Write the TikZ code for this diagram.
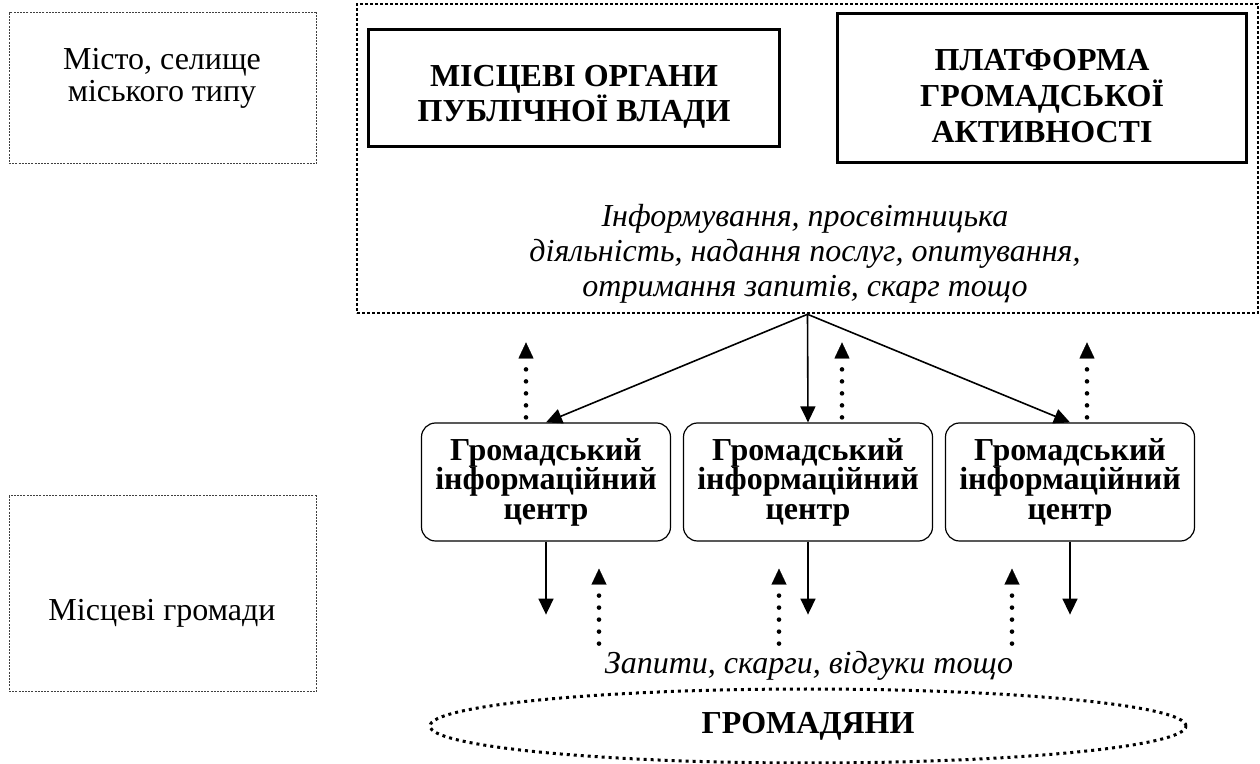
\documentclass[tikz,border=0pt]{standalone}
\usepackage{fontspec}
\setmainfont{Liberation Serif}
\usetikzlibrary{arrows.meta,shapes.geometric}

\begin{document}
\begin{tikzpicture}[x=0.5pt, y=-0.5pt, node distance=131pt,
font=\fontsize{16}{16}\selectfont,
levelbox/.style={draw=black!75, line width=0.5pt, dash pattern=on 1pt off 0.6pt},
areabox/.style={draw, line width=1.3pt, dash pattern=on 1.3pt off 1.2pt},
authbox/.style={draw, line width=1.5pt},
captext/.style={align=center, font=\fontsize{16}{17.5}\selectfont\bfseries},
gicbox/.style={draw, line width=0.6pt, rounded corners=7pt, minimum width=124.5pt, minimum height=59pt,
  align=center, font=\fontsize{16}{14.75}\selectfont\bfseries},
flow/.style={-{Triangle[length=8pt,width=7.5pt]}, line width=0.8pt},
back/.style={-{Triangle[length=8pt,width=7.5pt,line width=0.1pt]}, line width=2.3pt,
  line cap=round, dash pattern=on 0pt off 6pt}]

\useasboundingbox (0,0) rectangle (1260,764);

\node[levelbox, minimum width=153.5pt, minimum height=75.5pt] (city) at (162.5,88.5) {};
\node[align=center] (citytext) at (162,78) {Місто, селище\\міського типу};
\node[levelbox, minimum width=153.5pt, minimum height=98pt] (local) at (162.5,594) {};
\node (localtext) at (162,613) {Місцеві громади};

\node[areabox, minimum width=450.5pt, minimum height=154.5pt] (area) at (807.5,158.5) {};
\node[authbox, minimum width=205.5pt, minimum height=58.5pt] (organs) at (574,88) {};
\node[captext] (organstext) at (574,97) {МІСЦЕВІ ОРГАНИ\\ПУБЛІЧНОЇ ВЛАДИ};
\node[authbox, minimum width=204.5pt, minimum height=74.5pt] (platform) at (1042,88) {};
\node[captext, font=\fontsize{16}{18}\selectfont\bfseries] (platformtext) at (1042,96)
  {ПЛАТФОРМА\\ГРОМАДСЬКОЇ\\АКТИВНОСТІ};
\node[align=center, font=\fontsize{16}{17.5}\selectfont\itshape] (services) at (805,254)
  {Інформування, просвітницька\\діяльність, надання послуг, опитування,\\отримання запитів, скарг тощо};
\coordinate (hub) at (area.south);

\node[gicbox] (gic2) at (808,482) {Громадський\\інформаційний\\центр};
\node[gicbox, left of=gic2] (gic1) {Громадський\\інформаційний\\центр};
\node[gicbox, right of=gic2] (gic3) {Громадський\\інформаційний\\центр};

\node[font=\fontsize{16}{16}\selectfont\itshape] (requests) at (809,666) {Запити, скарги, відгуки тощо};
\node[ellipse, draw, line width=1.5pt, dash pattern=on 1.5pt off 2pt, minimum width=378pt, minimum height=37pt,
  font=\fontsize{16}{16}\selectfont\bfseries] (citizens) at (808,726) {ГРОМАДЯНИ};

\draw[flow] (hub) -- (gic1.north);
\draw[flow] (hub) -- (gic2.north);
\draw[flow] (hub) -- (gic3.north);

\coordinate (up1) at ([xshift=-10pt,yshift=40pt]gic1.north);
\coordinate (up2) at ([xshift=17pt,yshift=40pt]gic2.north);
\coordinate (up3) at ([xshift=8.5pt,yshift=40pt]gic3.north);
\draw[back] ([xshift=-10pt,yshift=2.5pt]gic1.north) -- (up1);
\draw[back] ([xshift=17pt,yshift=2.5pt]gic2.north) -- (up2);
\draw[back] ([xshift=8.5pt,yshift=2.5pt]gic3.north) -- (up3);

\coordinate (down1) at ([yshift=-36.5pt]gic1.south);
\coordinate (down2) at ([yshift=-36.5pt]gic2.south);
\coordinate (down3) at ([yshift=-36.5pt]gic3.south);
\draw[flow] (gic1) -- (down1);
\draw[flow] (gic2) -- (down2);
\draw[flow] (gic3) -- (down3);

\coordinate (from1) at ([xshift=26.5pt,yshift=-51pt]gic1.south);
\coordinate (from2) at ([xshift=-14.5pt,yshift=-51pt]gic2.south);
\coordinate (from3) at ([xshift=-29pt,yshift=-51pt]gic3.south);
\draw[back] (from1) -- ([xshift=26.5pt,yshift=-13.5pt]gic1.south);
\draw[back] (from2) -- ([xshift=-14.5pt,yshift=-13.5pt]gic2.south);
\draw[back] (from3) -- ([xshift=-29pt,yshift=-13.5pt]gic3.south);

\end{tikzpicture}
\end{document}
